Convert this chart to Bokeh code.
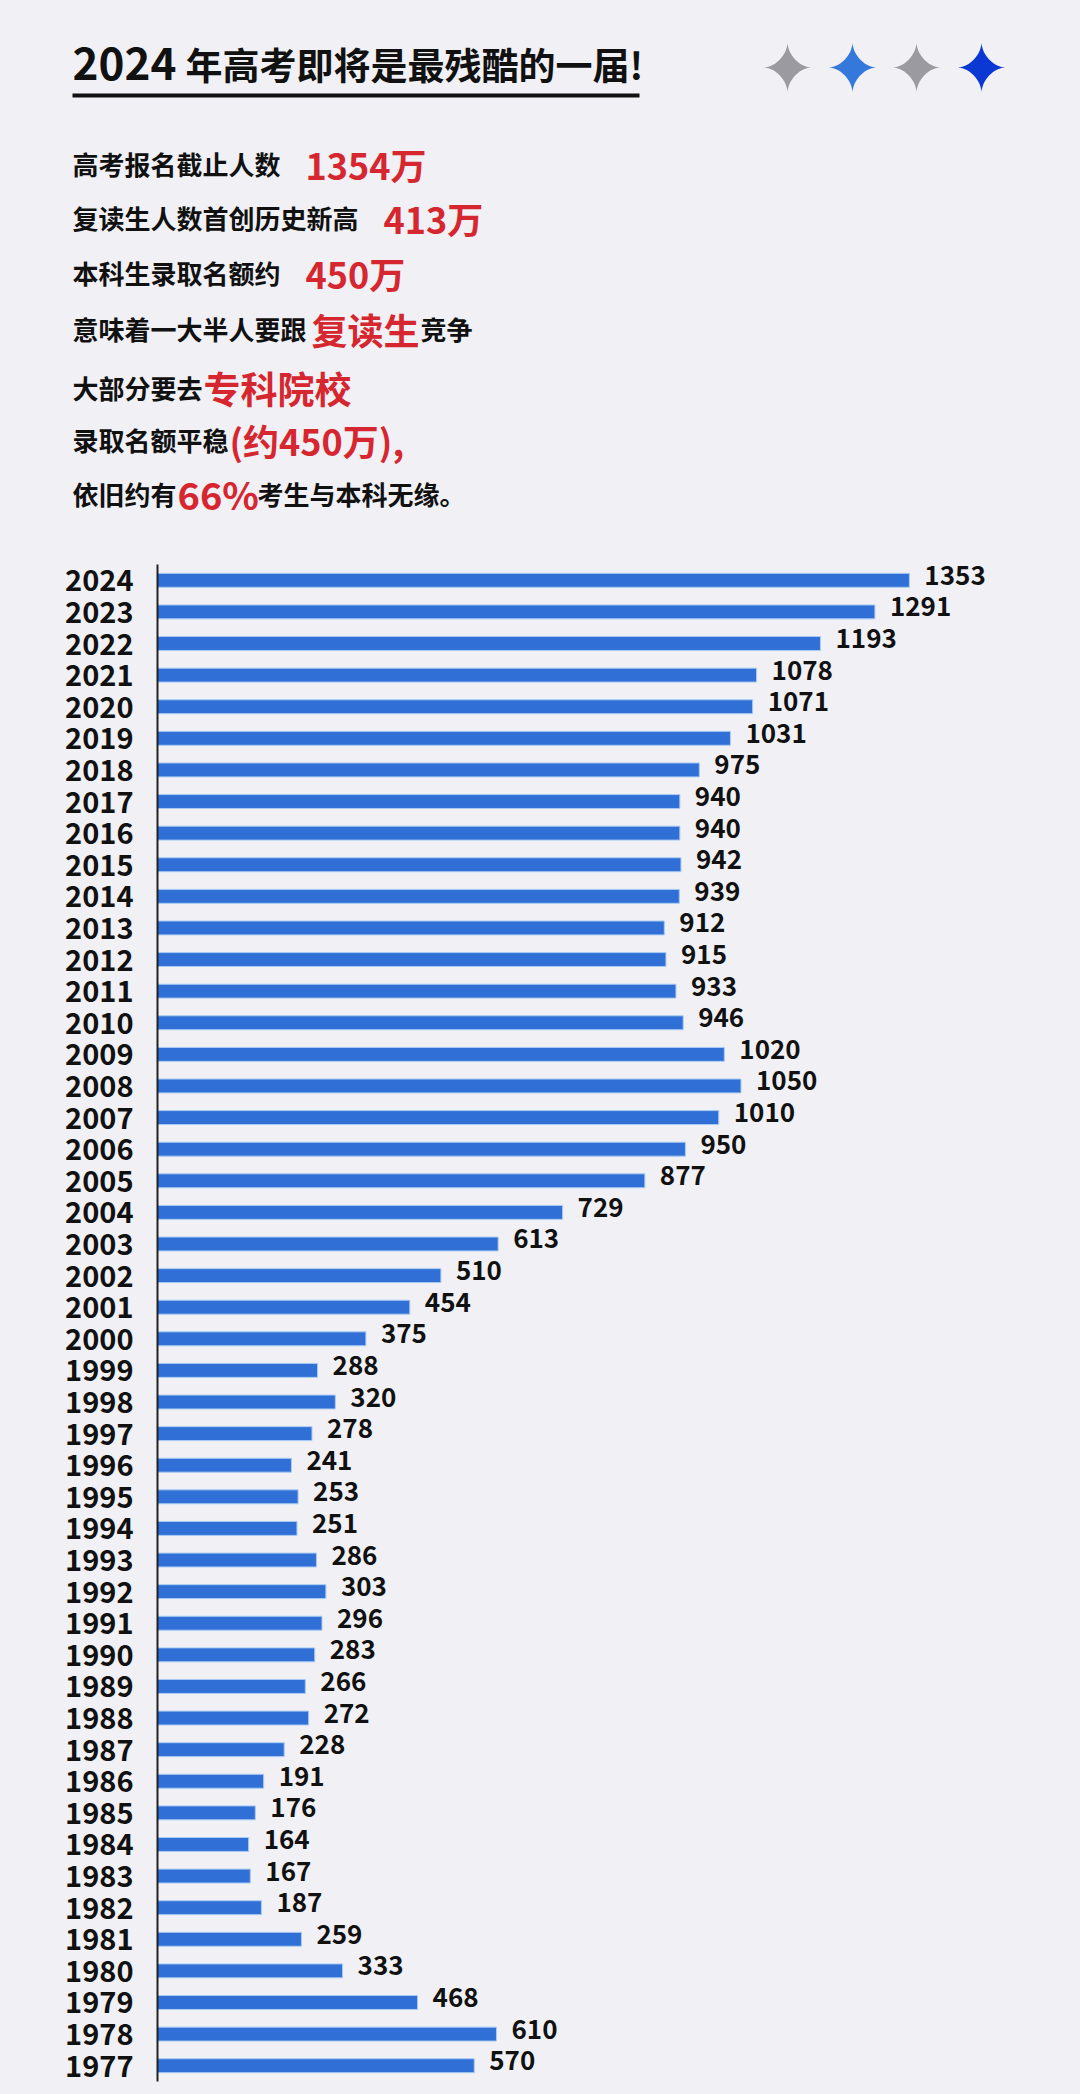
import numpy as np
from bokeh.plotting import figure
from bokeh.layouts import column
from bokeh.models import Range1d, FactorRange, ColumnDataSource
from bokeh.core.properties import value
from bokeh.embed import file_html
from bokeh.resources import INLINE

# ---------------- data ----------------
years = ["2024", "2023", "2022", "2021", "2020", "2019", "2018", "2017", "2016", "2015",
         "2014", "2013", "2012", "2011", "2010", "2009", "2008", "2007", "2006", "2005",
         "2004", "2003", "2002", "2001", "2000", "1999", "1998", "1997", "1996", "1995",
         "1994", "1993", "1992", "1991", "1990", "1989", "1988", "1987", "1986", "1985",
         "1984", "1983", "1982", "1981", "1980", "1979", "1978", "1977"]
applicants = [1353, 1291, 1193, 1078, 1071, 1031, 975, 940, 940, 942,
              939, 912, 915, 933, 946, 1020, 1050, 1010, 950, 877,
              729, 613, 510, 454, 375, 288, 320, 278, 241, 253,
              251, 286, 303, 296, 283, 266, 272, 228, 191, 176,
              164, 167, 187, 259, 333, 468, 610, 570]

title_year = "2024"
title_rest = "年高考即将是最残酷的一届!"
text_lines = [
    [("高考报名截止人数", "k"), ("1354万", "r")],
    [("复读生人数首创历史新高", "k"), ("413万", "r")],
    [("本科生录取名额约", "k"), ("450万", "r")],
    [("意味着一大半人要跟", "k"), ("复读生", "r"), ("竞争", "k")],
    [("大部分要去", "k"), ("专科院校", "r")],
    [("录取名额平稳", "k"), ("(约450万),", "r")],
    [("依旧约有", "k"), ("66%", "r"), ("考生与本科无缘。", "k")],
]
star_colors = ["#9a9aa0", "#3478dc", "#9a9aa0", "#0b38d2"]

# ---------------- style ----------------
BG = "#f0f0f5"
RED = "#d6262f"
INK = "#111111"
BAR = "#2f6fd6"
CJK = "Noto Sans CJK SC"

W = 1080
HEAD_H = 540
CHART_H = 2094 - HEAD_H

# ---------------- header ----------------
head = figure(width=W, height=HEAD_H, x_range=Range1d(0, W), y_range=Range1d(HEAD_H, 0),
              x_axis_type=None, y_axis_type=None, toolbar_location=None,
              output_backend="svg", min_border=0)
head.frame_align = False
head.background_fill_color = BG
head.border_fill_color = BG
head.outline_line_color = None
head.grid.visible = False


def put(fig, x, y, txt, size, color):
    fig.text(x=[x], y=[y], text=[txt], text_font=value(CJK), text_font_style="bold",
             text_font_size=f"{size}px", text_color=color, text_baseline="middle",
             text_align="left")


put(head, 72, 63, title_year, 44, INK)
put(head, 185, 63, title_rest, 37, INK)
head.segment(x0=[72], y0=[95], x1=[639], y1=[95], line_color=INK, line_width=4)

# sparkle stars
star_x = [787, 852, 916, 981]
t = np.linspace(0, 2 * np.pi, 121)
pw = 3.3
xs, ys = [], []
for cx in star_x:
    c, s = np.cos(t), np.sin(t)
    xs.append(list(cx + 24 * np.sign(c) * np.abs(c) ** pw))
    ys.append(list(67 + 25 * np.sign(s) * np.abs(s) ** pw))
head.patches(xs=xs, ys=ys, fill_color=star_colors, line_color=None)

line_y = [163, 217, 272, 328, 387, 439, 493]
seg_x = [[72, 305], [72, 383], [72, 305], [72, 311, 420], [72, 203], [72, 229], [72, 177, 257]]
red_size = [36, 36, 36, 36, 37, 36, 38]
for i, segs in enumerate(text_lines):
    for j, (txt, kind) in enumerate(segs):
        if kind == "r":
            put(head, seg_x[i][j], line_y[i], txt, red_size[i], RED)
        else:
            put(head, seg_x[i][j], line_y[i], txt, 26, INK)

# ---------------- bar chart ----------------
src = ColumnDataSource(dict(year=years, val=applicants, lab=[str(v) for v in applicants]))
frame_w = W - 157 - 20
chart = figure(width=W, height=CHART_H, y_range=FactorRange(factors=years[::-1]),
               x_range=Range1d(0, frame_w / 0.5557), x_axis_location=None,
               toolbar_location=None, output_backend="svg",
               min_border_left=157, min_border_right=20, min_border_top=24, min_border_bottom=13)
chart.frame_align = False
chart.background_fill_color = BG
chart.border_fill_color = BG
chart.outline_line_color = None
chart.grid.visible = False

chart.hbar(y="year", right="val", left=0, height=0.44, source=src,
           fill_color=BAR, line_color="#a9cbf3", line_width=1)
chart.text(x="val", y="year", text="lab", source=src, x_offset=15, y_offset=-5,
           text_font=value(CJK), text_font_style="bold", text_font_size="26px",
           text_color=INK, text_baseline="middle", text_align="left")

ax = chart.yaxis[0]
ax.axis_line_color = "#222222"
ax.axis_line_width = 2
ax.major_tick_line_color = None
ax.minor_tick_line_color = None
ax.major_label_standoff = 18
ax.major_label_text_font = CJK
ax.major_label_text_font_style = "bold"
ax.major_label_text_font_size = "29px"
ax.major_label_text_color = INK

layout = column(head, chart, spacing=0, styles={"background-color": BG})
open("out.html", "w").write(file_html(layout, INLINE))
